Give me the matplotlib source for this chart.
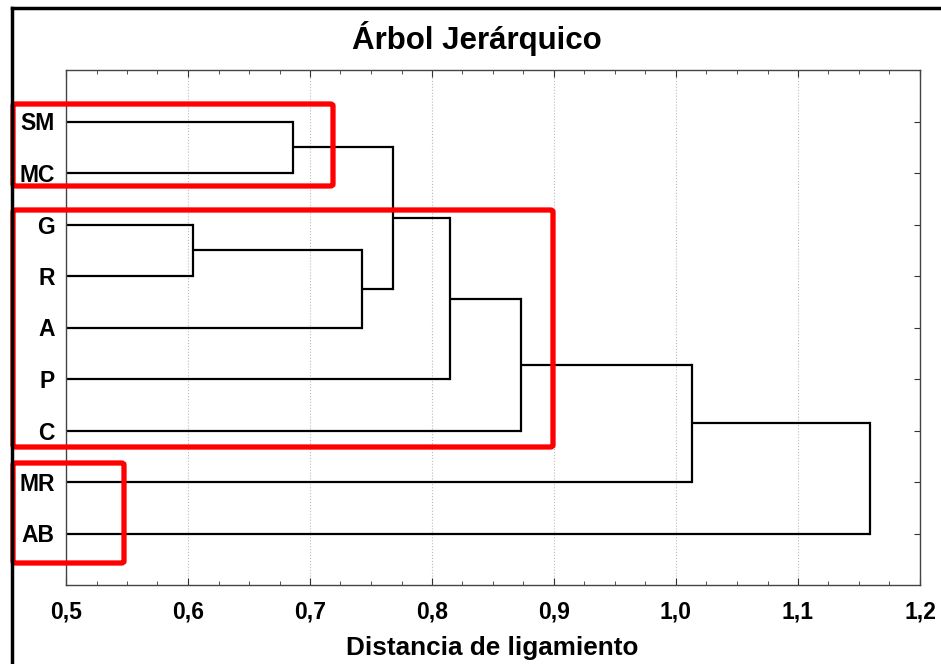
import matplotlib.pyplot as plt
import numpy as np
from matplotlib.patches import FancyBboxPatch
from matplotlib.ticker import MultipleLocator, FuncFormatter

plt.rcParams['font.family'] = ['Liberation Sans', 'DejaVu Sans']

# hojas del árbol (de arriba hacia abajo)
leaves = ["SM", "MC", "G", "R", "A", "P", "C", "MR", "AB"]
# uniones: cluster a, cluster b, distancia (ids nuevos desde 9)
merge_a = [0, 2, 10, 9, 12, 13, 14, 15]
merge_b = [1, 3, 4, 11, 5, 6, 7, 8]
heights = [0.686, 0.604, 0.743, 0.768, 0.815, 0.873, 1.013, 1.159]

x_ticks = [0.5, 0.6, 0.7, 0.8, 0.9, 1.0, 1.1, 1.2]

# recuadros rojos en pixeles de la figura (x0, y0 desde arriba, x1, y1)
boxes = [(13, 104, 333, 186), (13, 210, 553, 447), (13, 463, 124, 563)]

W, H = 941, 664
fig = plt.figure(figsize=(W / 100, H / 100), dpi=100)
ax = fig.add_axes([66 / W, 1 - 585 / H, (920 - 66) / W, (585 - 70) / H])

xmin = 0.5
pos_y = {i: i + 1 for i in range(len(leaves))}
pos_x = {i: xmin for i in range(len(leaves))}

for k, (a, b, h) in enumerate(zip(merge_a, merge_b, heights)):
    new = len(leaves) + k
    for c in (a, b):
        ax.plot([pos_x[c], h], [pos_y[c], pos_y[c]], color='black', lw=1.6,
                solid_capstyle='butt')
    ax.plot([h, h], [pos_y[a], pos_y[b]], color='black', lw=1.6,
            solid_capstyle='projecting')
    pos_x[new] = h
    pos_y[new] = (pos_y[a] + pos_y[b]) / 2

ax.set_xlim(0.5, 1.2)
ax.set_ylim(10, 0)
ax.set_xticks(x_ticks)
ax.xaxis.set_minor_locator(MultipleLocator(0.025))
ax.xaxis.set_major_formatter(FuncFormatter(lambda v, p: f"{v:.1f}".replace(".", ",")))
ax.set_yticks(range(1, len(leaves) + 1))
ax.set_yticklabels(leaves)

ax.tick_params(axis='x', which='both', direction='in', top=True, bottom=True,
               labelsize=16.5, pad=11, color='#333333')
ax.tick_params(axis='x', which='major', length=5)
ax.tick_params(axis='x', which='minor', length=3)
ax.tick_params(axis='y', direction='in', left=False, right=True, length=4,
               labelsize=16.5, pad=8, color='#333333')
for lab in ax.get_xticklabels() + ax.get_yticklabels():
    lab.set_fontweight('bold')

ax.grid(axis='x', which='major', linestyle=':', color='#bbbbbb', lw=0.8)
for s in ax.spines.values():
    s.set_color('#444444')
    s.set_linewidth(1.0)

fig.text(477 / W, 1 - 38 / H, "Árbol Jerárquico", ha='center', va='center',
         fontsize=22.5, fontweight='bold')
fig.text(492 / W, 1 - 648 / H, "Distancia de ligamiento", ha='center', va='center',
         fontsize=18.8, fontweight='bold')

# marco negro de la imagen
fig.add_artist(plt.Line2D([12 / W, 12 / W], [0, 1 - 8 / H], color='black', lw=2.5,
                          transform=fig.transFigure))
fig.add_artist(plt.Line2D([12 / W, 1], [1 - 8 / H, 1 - 8 / H], color='black', lw=2.5,
                          transform=fig.transFigure))

for x0, y0, x1, y1 in boxes:
    r = FancyBboxPatch((x0 / W, 1 - y1 / H), (x1 - x0) / W, (y1 - y0) / H,
                       boxstyle='round,pad=0,rounding_size=0.003',
                       transform=fig.transFigure, fill=False, edgecolor='#ff0000',
                       lw=3.8)
    fig.add_artist(r)

fig.savefig("out.png", dpi=100)
